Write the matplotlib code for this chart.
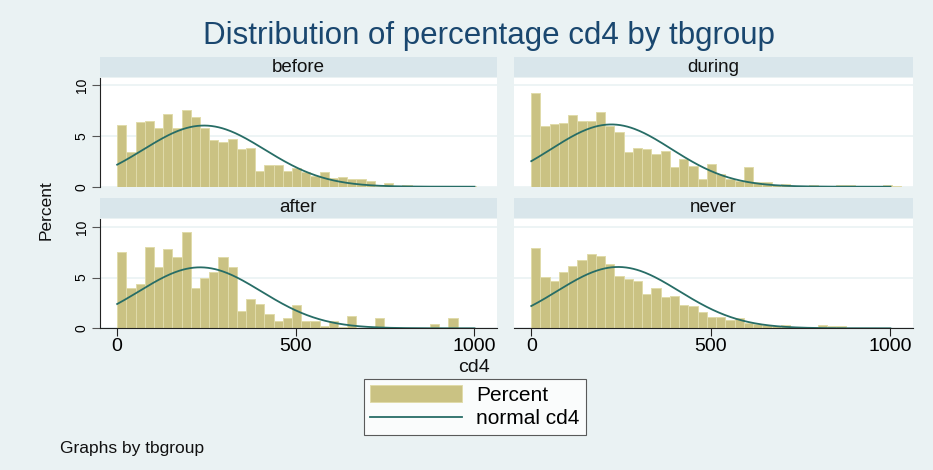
import numpy as np
import matplotlib
matplotlib.use("Agg")
import matplotlib.pyplot as plt
from matplotlib.patches import Patch
from matplotlib.lines import Line2D

plt.rcParams['font.family'] = ['Liberation Sans', 'DejaVu Sans']

# histogram data: percent per bin, 40 bins over 0..1030
bin_edges = np.linspace(0, 1030, 41)
groups = ['before', 'during', 'after', 'never']
before = [6.1, 3.4, 6.4, 6.5, 5.8, 7.2, 5.8, 7.6, 6.9, 5.8, 4.6, 4.4, 4.7, 3.7, 3.8, 1.6,
          2.1, 2.1, 1.6, 1.8, 1.5, 1.1, 1.5, 0.9, 1.0, 0.8, 0.8, 0.55, 0.1, 0.4, 0.05, 0.15,
          0.0, 0.0, 0.0, 0.0, 0.05, 0.0, 0.05, 0.0]
during = [9.3, 6.0, 6.2, 6.3, 7.1, 6.5, 6.5, 7.4, 6.0, 5.4, 3.4, 3.8, 3.7, 3.2, 3.5, 1.9,
          2.7, 2.0, 0.8, 2.2, 1.25, 0.8, 0.55, 1.9, 0.45, 0.5, 0.2, 0.25, 0.1, 0.05, 0.2, 0.05,
          0.05, 0.2, 0.15, 0.1, 0.05, 0.05, 0.15, 0.05]
after = [7.5, 4.0, 4.4, 8.0, 6.0, 7.8, 7.0, 9.5, 4.0, 5.0, 5.5, 7.0, 6.0, 1.7, 2.9, 2.4,
         1.4, 0.7, 1.0, 2.3, 0.7, 0.7, 0.2, 0.7, 0.15, 1.2, 0.0, 0.0, 1.0, 0.0, 0.0, 0.0,
         0.0, 0.0, 0.45, 0.0, 1.0, 0.0, 0.0, 0.0]
never = [7.9, 5.1, 4.7, 5.5, 6.1, 6.7, 7.3, 7.1, 6.3, 5.2, 4.9, 4.7, 3.4, 4.0, 3.1, 3.2,
         2.3, 2.2, 1.6, 1.1, 1.1, 0.8, 1.05, 0.55, 0.4, 0.35, 0.25, 0.3, 0.15, 0.15, 0.1, 0.3,
         0.25, 0.25, 0.05, 0.05, 0.05, 0.05, 0.05, 0.05]
# normal overlay: mean and sd of cd4 per group
means = [243, 223, 232, 242]
sds = [170, 167, 171, 170]

bg = '#EAF2F3'
strip_c = '#D9E6EB'
bar_c = '#CAC283'
bar_edge = '#E0DBAA'
line_c = '#276D66'

W, H = 933, 470
fig = plt.figure(figsize=(W / 100, H / 100), dpi=100, facecolor=bg)


def box(x0, y0, x1, y1):
    return [x0 / W, 1 - y1 / H, (x1 - x0) / W, (y1 - y0) / H]


cols = [(100, 497), (514, 913)]
rows = [(77.7, 186.7), (219, 328.3)]
strips = [(57, 77), (198, 218)]

series = [before, during, after, never]
for k, (name, vals) in enumerate(zip(groups, series)):
    r, c = divmod(k, 2)
    x0, x1 = cols[c]
    ax = fig.add_axes(box(x0, rows[r][0], x1, rows[r][1]))
    ax.set_facecolor('white')
    ax.bar(bin_edges[:-1], vals, width=np.diff(bin_edges), align='edge',
           color=bar_c, edgecolor=bar_edge, linewidth=0.7, zorder=2)
    xs = np.linspace(0, 1000, 300)
    bw = bin_edges[1] - bin_edges[0]
    ys = 100 * bw * np.exp(-0.5 * ((xs - means[k]) / sds[k]) ** 2) / (sds[k] * np.sqrt(2 * np.pi))
    ax.plot(xs, ys, color=line_c, lw=1.3, zorder=3)
    ax.set_xlim(-48, 1063)
    ax.set_ylim(0, 10.77)
    ax.set_yticks([0, 5, 10])
    ax.yaxis.grid(True, color=bg, lw=1.2, zorder=0)
    ax.set_axisbelow(True)
    for s in ['top', 'right']:
        ax.spines[s].set_visible(False)
    if c == 0:
        ax.spines['left'].set_color('#222222')
        ax.tick_params(axis='y', length=6, width=0.8, color='#555555', labelsize=10,
                       labelrotation=90, pad=2)
        for lab in ax.get_yticklabels():
            lab.set_va('center')
    else:
        ax.spines['left'].set_visible(False)
        ax.tick_params(axis='y', length=0, labelleft=False)
    if r == 1:
        ax.set_xticks([0, 500, 1000])
        ax.spines['bottom'].set_color('#222222')
        ax.tick_params(axis='x', length=6, width=0.8, color='#222222', labelsize=14, pad=1)
    else:
        ax.spines['bottom'].set_visible(False)
        ax.tick_params(axis='x', length=0, labelbottom=False)

    sax = fig.add_axes(box(x0, strips[r][0], x1, strips[r][1]))
    sax.set_facecolor(strip_c)
    sax.set_xticks([])
    sax.set_yticks([])
    for s in sax.spines.values():
        s.set_visible(False)
    sax.text(0.5, 0.5, name, ha='center', va='center', fontsize=13.5, color='#111111',
             transform=sax.transAxes)

fig.text(489 / W, 1 - 36 / H, 'Distribution of percentage cd4 by tbgroup', ha='center', va='center',
         fontsize=22.5, color='#1A476F')
fig.text(46 / W, 1 - 210 / H, 'Percent', rotation=90, ha='center', va='center', fontsize=12.5,
         color='#111111')
fig.text(474 / W, 1 - 368 / H, 'cd4', ha='center', va='center', fontsize=14, color='#111111')
fig.text(60 / W, 1 - 448 / H, 'Graphs by tbgroup', ha='left', va='center', fontsize=12.5,
         color='#111111')

handles = [Patch(facecolor=bar_c, edgecolor=bar_edge, linewidth=0.7),
           Line2D([0], [0], color=line_c, lw=1.3)]
leg = fig.legend(handles, ['Percent', 'normal cd4'], loc='upper center',
                 bbox_to_anchor=(475 / W, 1 - 379 / H), fontsize=15, frameon=True,
                 fancybox=False, edgecolor='#333333', handlelength=4.4, handleheight=0.85,
                 borderpad=0.3, labelspacing=0.2, handletextpad=0.7, borderaxespad=0)
leg.get_frame().set_linewidth(0.8)

fig.savefig('out.png', dpi=100, facecolor=bg)
